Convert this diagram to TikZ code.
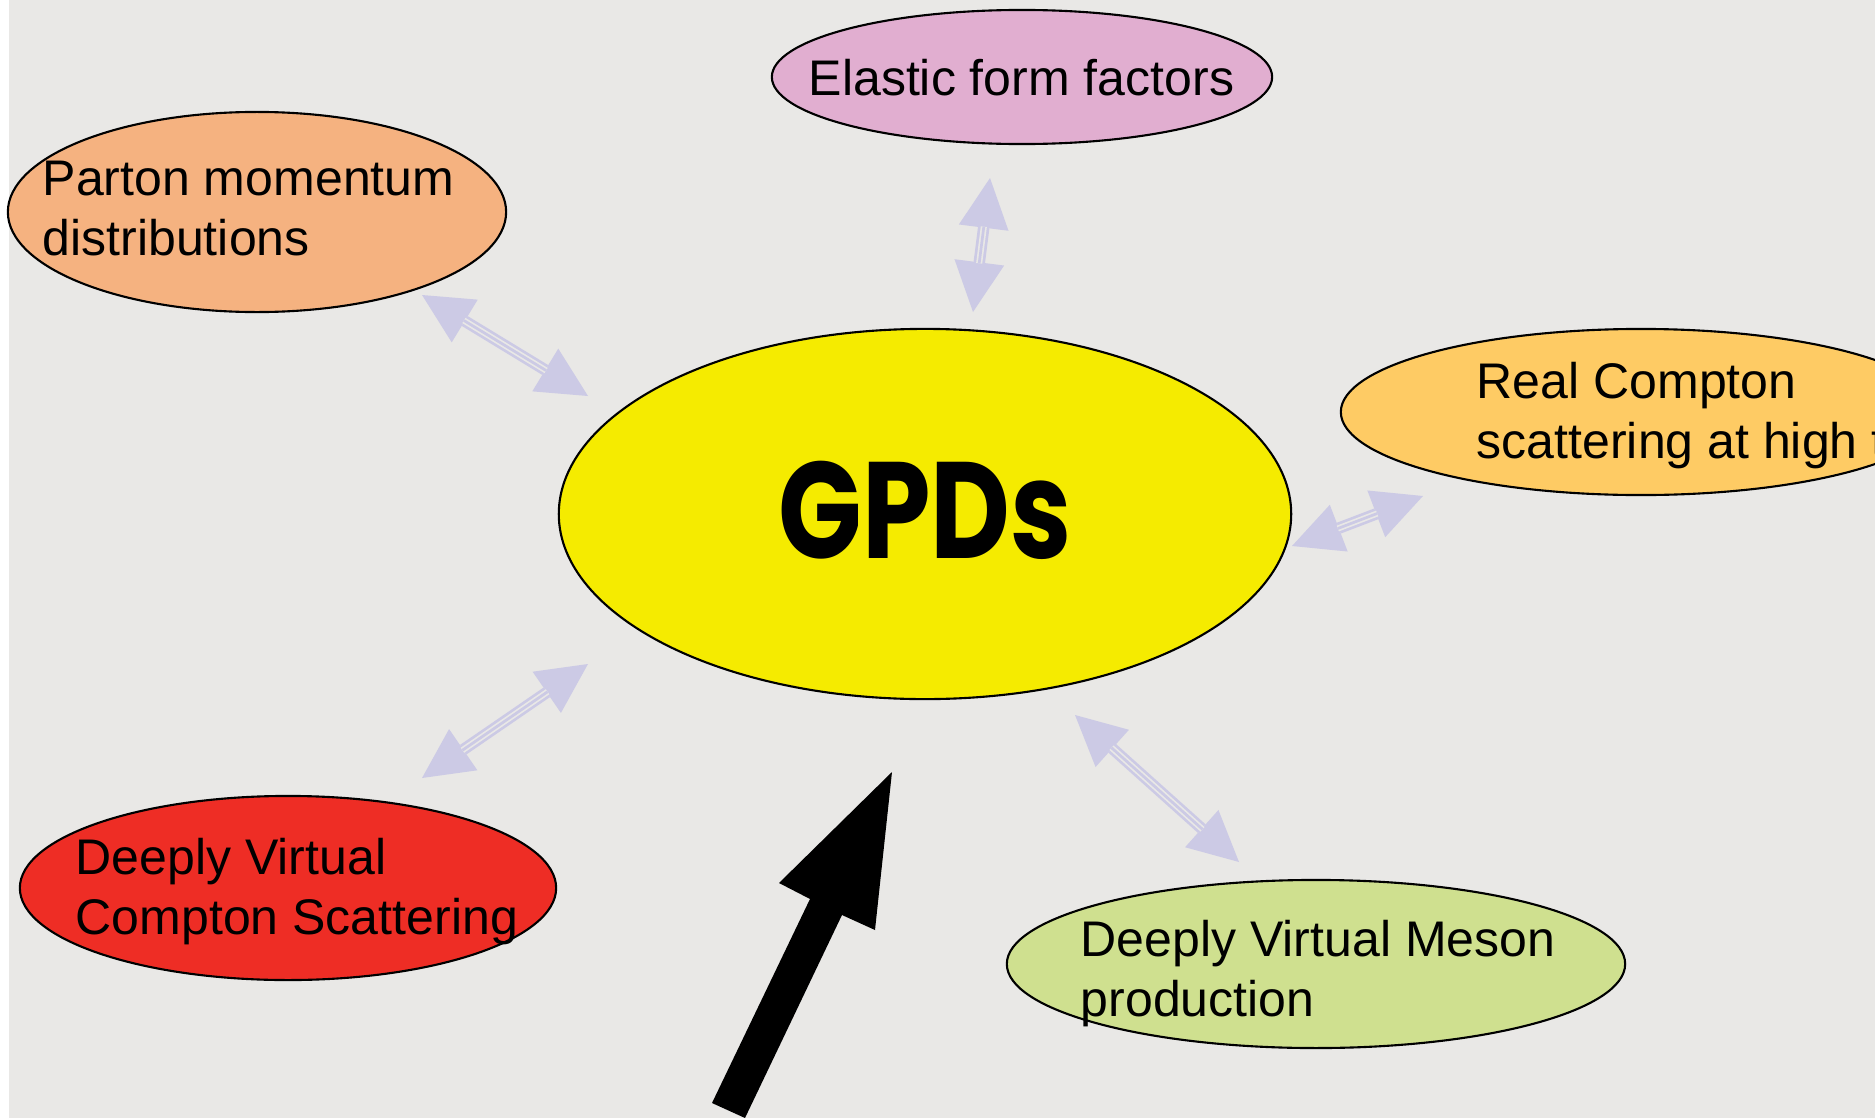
\documentclass[tikz,border=0pt]{standalone}
\usepackage{fontspec}
\setmainfont{Liberation Sans}
\newfontfamily\gpdfont{Poppins}
\usetikzlibrary{arrows.meta,shapes.geometric}

\definecolor{panel}{HTML}{E9E8E6}
\definecolor{lav}{HTML}{CCCAE5}
\definecolor{cpink}{HTML}{E1AED0}
\definecolor{corange}{HTML}{F5B280}
\definecolor{cyellow}{HTML}{F5EB00}
\definecolor{capricot}{HTML}{FECB64}
\definecolor{cred}{HTML}{EE2D25}
\definecolor{cgreen}{HTML}{CFE08F}

\begin{document}
\begin{tikzpicture}[
  x=0.01cm, y=-0.01cm,
  bubble/.style={ellipse, draw=black, line width=0.6pt, inner sep=0pt},
  caption/.style={anchor=base west, inner sep=0pt,
    font=\fontsize{14.23}{17.2}\selectfont},
  >={Triangle[length=5mm,width=5mm,line width=0pt]},
  link/.style={draw=lav, line width=0.115cm, <->},
  linkgap/.style={draw=panel, line width=0.017cm, double=lav,
    double distance=0.027cm, shorten <=0.49cm, shorten >=0.49cm},
]
\useasboundingbox (0,0) rectangle (1875,1118);
\clip (0,0) rectangle (1875,1118);
\fill[white] (0,0) rectangle (1875,1118);
\fill[panel] (9,0) rectangle (1875,1118);

% topic bubbles
\node[bubble, fill=cpink,    minimum width=5.00cm, minimum height=1.34cm] (elastic) at (1022,77) {};
\node[bubble, fill=corange,  minimum width=4.98cm, minimum height=2.00cm] (parton)  at (257,212) {};
\node[bubble, fill=capricot, minimum width=6.00cm, minimum height=1.66cm] (rcs)     at (1641,412) {};
\node[bubble, fill=cred,     minimum width=5.36cm, minimum height=1.84cm] (dvcs)    at (288,888) {};
\node[bubble, fill=cgreen,   minimum width=6.18cm, minimum height=1.68cm] (dvmp)    at (1316,964) {};
\node[bubble, fill=cyellow,  minimum width=7.32cm, minimum height=3.70cm] (gpd)     at (925,514) {};

% bubble captions
\node[caption] (elastictxt) at (808,95) {Elastic form factors};
\node[caption] (partontxt) at (42,195) {\begin{tabular}[t]{@{}l@{}}Parton momentum\\distributions\end{tabular}};
\node[caption] (rcstxt) at (1476,398) {\begin{tabular}[t]{@{}l@{}}Real Compton\\scattering at high t\end{tabular}};
\node[caption] (dvcstxt) at (75,874) {\begin{tabular}[t]{@{}l@{}}Deeply Virtual\\Compton Scattering\end{tabular}};
\node[caption] (dvmptxt) at (1080,956) {\begin{tabular}[t]{@{}l@{}}Deeply Virtual Meson\\production\end{tabular}};

\node[anchor=base, inner sep=0pt, font=\gpdfont\bfseries\fontsize{39}{41}\selectfont] (gpdtxt) at (925,558) {\scalebox{0.8}[1]{GPDs}};

% ends of the two-headed links
\coordinate (p1) at (422,295);  \coordinate (p2) at (588,396);
\coordinate (e1) at (990,178);  \coordinate (e2) at (973,312);
\coordinate (r1) at (1292,546); \coordinate (r2) at (1423,496);
\coordinate (d1) at (422,778);  \coordinate (d2) at (588,664);
\coordinate (m1) at (1075,715); \coordinate (m2) at (1239,862);

\foreach \a/\b in {p1/p2, e1/e2, r1/r2, d1/d2, m1/m2} {
  \draw[link] (\a) -- (\b);
  \draw[linkgap] (\a) -- (\b);
}

% big pointer arrow
\coordinate (tip) at (892,772);
\fill[black] (tip) -- (875,930) -- (842,915) -- (745,1118) -- (712,1103)
  -- (810,899) -- (779,883) -- cycle;
\end{tikzpicture}
\end{document}
